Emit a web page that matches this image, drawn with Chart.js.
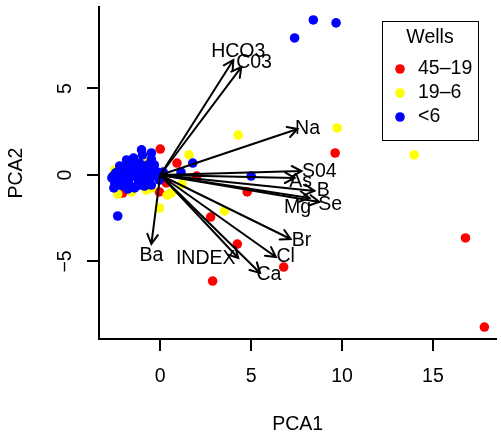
<!DOCTYPE html>
<html lang="en">
<head>
  <meta charset="UTF-8" />
  <title>PCA biplot - Wells</title>
  <script src="https://cdn.jsdelivr.net/npm/chart.js"></script>
  <style>
    body {
      margin: 0;
      background: #ffffff;
    }
    canvas {
      display: block;
    }
  </style>
</head>
<body>

  <canvas id="pcaChart" width="501" height="432"></canvas>

  <script>
    // scores, one list per well group
    const redPoints = [
      [9.62, 1.27], [16.79, -3.64], [17.83, -8.79], [2.88, -6.13], [4.24, -3.99],
      [2.77, -2.43], [6.79, -5.32], [4.78, -0.98], [2.01, -0.06], [0.0, 1.50],
      [0.92, 0.69], [-0.05, -0.98], [-2.07, -1.04], [0.33, -0.46]
    ];
    const yellowPoints = [
      [13.97, 1.16], [9.73, 2.72], [4.29, 2.31], [1.58, 1.16], [3.53, -2.08],
      [1.2, -0.52], [0.38, -1.16], [0.6, -1.04], [-0.05, -1.91], [-0.76, -0.87],
      [-2.5, 0.29], [-2.34, -1.10], [-1.58, -0.98], [-0.87, 0.87], [-0.49, -0.75],
      [-0.87, 0.35]
    ];
    const bluePoints = [
      [7.39, 7.92], [8.42, 8.96], [9.67, 8.79], [5.0, -0.06], [-2.34, -2.37],
      [1.14, 0.17], [1.79, 0.69], [-1.03, 1.45], [-0.49, 1.27], [-0.49, 0.92],
      [-0.98, 1.16], [-1.74, 0.69], [-1.14, 0.69], [-1.52, 0.29], [-2.23, 0.12],
      [-2.39, -0.29], [-1.96, -0.29], [-1.68, -0.58], [-1.30, -0.12], [-0.98, -0.12],
      [-2.23, -0.58], [-2.5, -0.46], [-0.43, 0.29], [-0.60, -0.29], [-0.16, 0.17],
      [-1.14, 0.17], [-1.8, 0.0], [-1.41, 0.4], [-1.96, 0.4], [-0.7, 0.58],
      [-2.6, -0.06], [-0.87, -0.64], [-1.2, -0.45], [-1.6, 0.05],
      [-2.66, -0.17], [-2.55, -0.75], [-2.01, -0.64], [-1.79, -0.81], [-1.41, -0.75],
      [-1.14, -0.58], [-0.82, -0.46], [-0.60, 0.12], [-0.33, 0.58], [-0.05, -0.29],
      [0.16, 0.17], [-2.23, 0.52], [-1.85, 0.87], [-1.47, 0.98], [-1.25, 0.58],
      [-0.82, 0.29], [-0.49, -0.58], [-1.68, -0.17], [-2.01, 0.06], [-2.45, 0.12],
      [-0.27, -0.06]
    ];

    // loadings: arrow tips and where each name sits
    const varNames = ['HCO3', 'C03', 'Na', 'S04', 'As', 'B', 'Mg', 'Se', 'Br', 'Cl', 'Ca', 'INDEX', 'Ba'];
    const tipX = [4.02, 4.46, 7.55, 7.77, 7.39, 8.48, 8.21, 8.75, 7.17, 6.36, 5.49, 4.29, -0.49];
    const tipY = [6.65, 6.24, 2.66, 0.23, -0.17, -0.92, -1.33, -1.56, -3.70, -4.74, -5.66, -4.80, -3.99];
    const labelX = [4.29, 5.16, 8.10, 8.75, 7.72, 8.97, 7.55, 9.35, 7.77, 6.90, 5.98, 2.5, -0.49];
    const labelY = [7.11, 6.47, 2.66, 0.17, -0.40, -0.92, -1.91, -1.73, -3.82, -4.74, -5.78, -4.86, -4.68];

    const groupNames = ['45\u201319', '19\u20136', '<6'];
    const xTicks = [0, 5, 10, 15];
    const yTicks = [-5, 0, 5];

    const FONT = '"Liberation Sans", Arial, sans-serif';
    const FSIZE = 19.5;

    const toXY = arr => arr.map(p => ({ x: p[0], y: p[1] }));

    const overlay = {
      id: 'overlay',
      afterDatasetsDraw(chart) {
        const { ctx, scales: { x, y } } = chart;
        const ox = x.getPixelForValue(0);
        const oy = y.getPixelForValue(0);
        ctx.save();
        ctx.strokeStyle = '#000';
        ctx.lineWidth = 2;
        ctx.lineCap = 'round';
        varNames.forEach((n, i) => {
          const tx = x.getPixelForValue(tipX[i]);
          const ty = y.getPixelForValue(tipY[i]);
          const a = Math.atan2(ty - oy, tx - ox);
          ctx.beginPath();
          ctx.moveTo(ox, oy);
          ctx.lineTo(tx, ty);
          ctx.moveTo(tx - 11 * Math.cos(a - 0.5), ty - 11 * Math.sin(a - 0.5));
          ctx.lineTo(tx, ty);
          ctx.lineTo(tx - 11 * Math.cos(a + 0.5), ty - 11 * Math.sin(a + 0.5));
          ctx.stroke();
        });
        ctx.fillStyle = '#000';
        ctx.font = FSIZE + 'px ' + FONT;
        ctx.textAlign = 'center';
        ctx.textBaseline = 'middle';
        varNames.forEach((n, i) => {
          ctx.fillText(n, x.getPixelForValue(labelX[i]), y.getPixelForValue(labelY[i]));
        });
        ctx.restore();
      },
      afterDraw(chart) {
        const { ctx, scales: { y } } = chart;
        ctx.save();
        // y tick labels, turned like R does
        ctx.fillStyle = '#000';
        ctx.font = FSIZE + 'px ' + FONT;
        ctx.textAlign = 'center';
        ctx.textBaseline = 'middle';
        y.ticks.forEach(t => {
          ctx.save();
          ctx.translate(66, y.getPixelForValue(t.value));
          ctx.rotate(-Math.PI / 2);
          ctx.fillText(t.value < 0 ? '\u2212' + Math.abs(t.value) : String(t.value), 0, 0);
          ctx.restore();
        });
        // legend box
        ctx.strokeStyle = '#000';
        ctx.lineWidth = 1;
        ctx.strokeRect(382.5, 21.5, 96, 119);
        ctx.fillText('Wells', 430, 38);
        ctx.textAlign = 'left';
        chart.data.datasets.forEach((ds, i) => {
          const ly = 69 + i * 24;
          ctx.beginPath();
          ctx.arc(400, ly, 4.8, 0, Math.PI * 2);
          ctx.fillStyle = ds.backgroundColor;
          ctx.fill();
          ctx.fillStyle = '#000';
          ctx.fillText(ds.label, 418, ly);
        });
        ctx.restore();
      }
    };

    const ctx = document.getElementById('pcaChart').getContext('2d');
    new Chart(ctx, {
      type: 'scatter',
      data: {
        datasets: [
          { label: groupNames[0], data: toXY(redPoints), backgroundColor: '#ff0000', order: 3 },
          { label: groupNames[1], data: toXY(yellowPoints), backgroundColor: '#ffff00', order: 2 },
          { label: groupNames[2], data: toXY(bluePoints), backgroundColor: '#0000ff', order: 1 }
        ]
      },
      options: {
        responsive: false,
        animation: false,
        layout: { padding: { top: 7, right: 0, left: 0, bottom: 0 } },
        elements: {
          point: { radius: 4.8, hoverRadius: 4.8, borderWidth: 0 }
        },
        plugins: {
          legend: { display: false },
          tooltip: { enabled: false }
        },
        scales: {
          x: {
            type: 'linear',
            min: -3.37,
            max: 18.48,
            afterBuildTicks: s => { s.ticks = xTicks.map(v => ({ value: v })); },
            afterFit: s => { s.height = 93; },
            grid: { drawOnChartArea: false, tickLength: 12, color: '#000', lineWidth: 2 },
            border: { display: true, color: '#000', width: 2 },
            ticks: { color: '#000', font: { family: FONT, size: FSIZE }, padding: 14, maxRotation: 0 },
            title: { display: true, text: 'PCA1', color: '#000', font: { family: FONT, size: FSIZE, lineHeight: 1 }, padding: { top: 0, bottom: -2 } }
          },
          y: {
            type: 'linear',
            min: -9.48,
            max: 9.71,
            afterBuildTicks: s => { s.ticks = yTicks.map(v => ({ value: v })); },
            afterFit: s => { s.width = 99; },
            grid: { drawOnChartArea: false, tickLength: 12, color: '#000', lineWidth: 2 },
            border: { display: true, color: '#000', width: 2 },
            ticks: { display: false },
            title: { display: true, text: 'PCA2', color: '#000', font: { family: FONT, size: FSIZE, lineHeight: 1 }, padding: { top: 7, bottom: 0 } }
          }
        }
      },
      plugins: [overlay]
    });
  </script>

</body>
</html>
